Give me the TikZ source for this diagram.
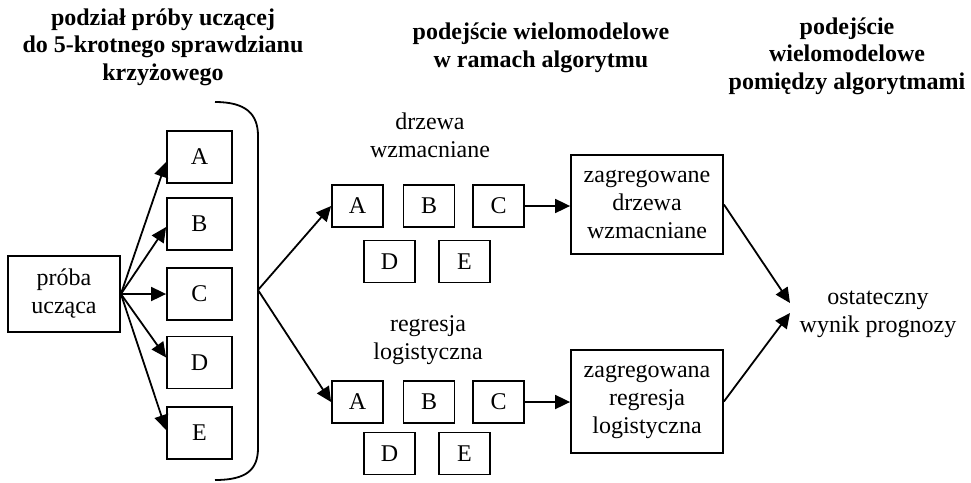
\documentclass[tikz,border=0pt]{standalone}
\usepackage{fontspec}
\setmainfont{Liberation Serif}
\usetikzlibrary{arrows.meta}
\begin{document}
\begin{tikzpicture}[x=1pt,y=-1pt,
  every node/.style={font=\fontsize{24}{28}\selectfont, align=center, inner sep=0pt},
  ttl/.style={font=\bfseries\fontsize{24}{27.5}\selectfont},
  bx/.style={draw, line width=1.8pt},
  small/.style={bx, minimum width=51pt, minimum height=42pt},
  tall/.style={bx, minimum width=65pt, minimum height=52pt},
  agg/.style={bx, minimum width=152pt},
  arr/.style={line width=1.8pt, -{Triangle[length=15pt,width=14pt]}},
  ln/.style={line width=1.8pt}]
\useasboundingbox (0,0) rectangle (971,482);

% titles
\node[ttl] (t1) at (163,47) {podział próby uczącej\\do 5-krotnego sprawdzianu\\krzyżowego};
\node[ttl] (t2) at (541,48) {podejście wielomodelowe\\w ramach algorytmu};
\node[ttl] (t3) at (847,56) {podejście\\wielomodelowe\\pomiędzy algorytmami};

% left part
\node[bx, minimum width=112pt, minimum height=76pt] (P) at (64,294) {próba\\ucząca};
\node[tall] (LA) at (199.5,157) {A};
\node[tall] (LB) at (199.5,224) {B};
\node[tall] (LC) at (199.5,294) {C};
\node[tall] (LD) at (199.5,362.5) {D};
\node[tall] (LE) at (199.5,433) {E};
\draw[arr] (P.east) -- ([yshift=-5pt]LA.west);
\draw[arr] (P.east) -- ([yshift=-3pt]LB.west);
\draw[arr] (P.east) -- (LC.west);
\draw[arr] (P.east) -- ([yshift=5pt]LD.west);
\draw[arr] (P.east) -- ([yshift=3pt]LE.west);

% bracket
\draw[ln] (215,102) .. controls (246,102) and (258,114) .. (258,136) -- (258,448) .. controls (258,470) and (246,480) .. (215,480);
\coordinate (fork) at (258,290);

% upper group
\node (lab1) at (430,135.5) {drzewa\\wzmacniane};
\node[small] (UA) at (357.5,206) {A};
\node[small] (UB) at (429,206) {B};
\node[small] (UC) at (498.5,206) {C};
\node[small] (UD) at (389.5,261.5) {D};
\node[small] (UE) at (464.5,261.5) {E};
\node[agg, minimum height=99pt] (AG1) at (647,204.5) {zagregowane\\drzewa\\wzmacniane};

% lower group
\node (lab2) at (428,340.5) {regresja\\logistyczna};
\node[small] (DA) at (357.5,402) {A};
\node[small] (DB) at (429,402) {B};
\node[small] (DC) at (498.5,402) {C};
\node[small] (DD) at (389.5,453.5) {D};
\node[small] (DE) at (464.5,453.5) {E};
\node[agg, minimum height=103pt] (AG2) at (647,401.5) {zagregowana\\regresja\\logistyczna};

\draw[arr] (fork) -- (UA.west);
\draw[arr] (fork) -- (DA.west);
\draw[arr] (UC.east) -- (AG1.west |- UC.east);
\draw[arr] (DC.east) -- (AG2.west |- DC.east);

% final
\node (fin) at (878,314) {ostateczny\\wynik prognozy};
\coordinate (f1) at (790,303);
\coordinate (f2) at (790,313);
\draw[arr] (AG1.east) -- (f1);
\draw[arr] (AG2.east) -- (f2);
\end{tikzpicture}
\end{document}
